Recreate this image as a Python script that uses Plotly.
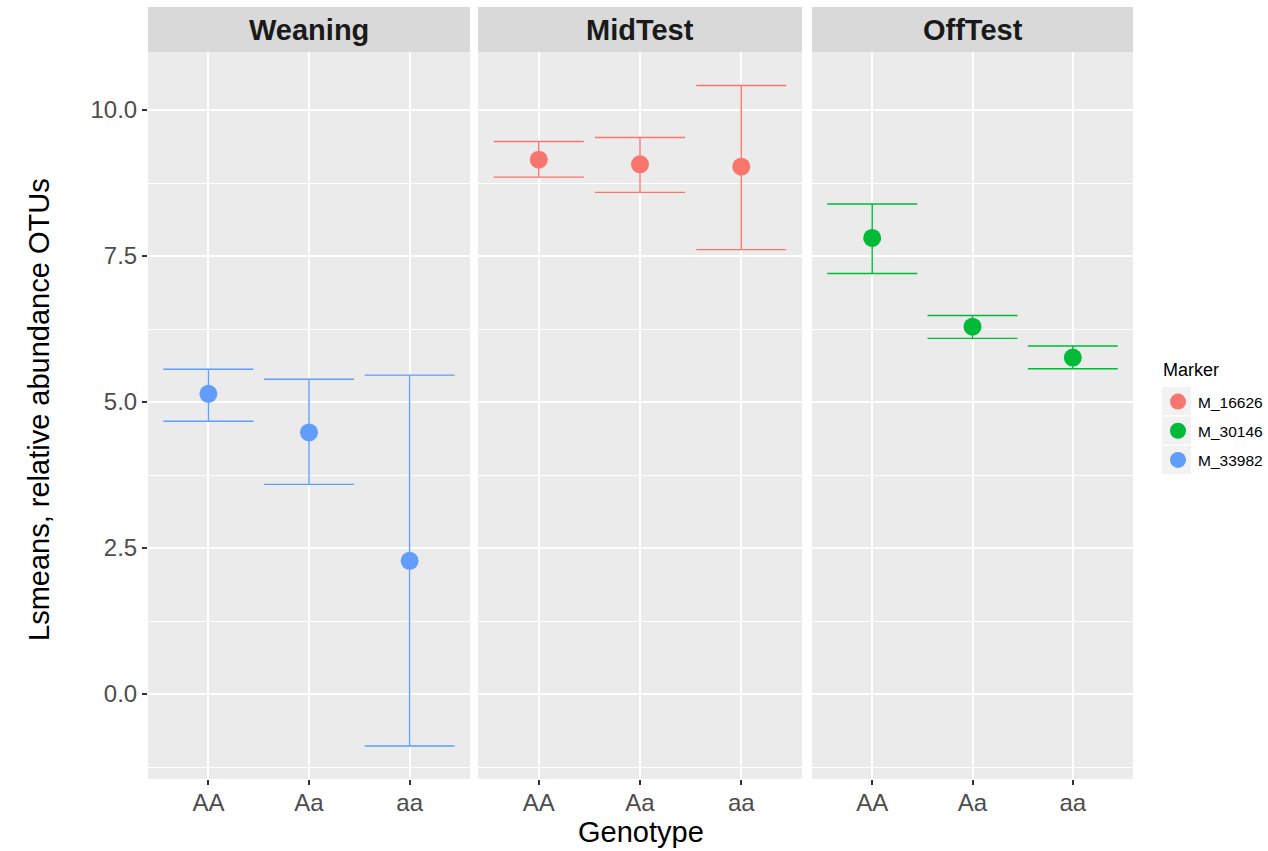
import plotly.graph_objects as go

# Genotype categories on the x axis of every facet
genotypes = ["AA", "Aa", "aa"]

# Facets (sampling stage) and the OTU marker shown in each
stages = ["Weaning", "MidTest", "OffTest"]
stage_markers = ["M_33982", "M_16626", "M_30146"]

# Least-squares means with lower / upper confidence limits
weaning_mean = [5.14, 4.48, 2.28]
weaning_lower = [4.67, 3.59, -0.89]
weaning_upper = [5.56, 5.39, 5.46]

midtest_mean = [9.15, 9.07, 9.03]
midtest_lower = [8.85, 8.59, 7.61]
midtest_upper = [9.46, 9.53, 10.42]

offtest_mean = [7.81, 6.29, 5.76]
offtest_lower = [7.20, 6.09, 5.57]
offtest_upper = [8.39, 6.48, 5.96]

# ggplot2 default hue palette for the three markers
marker_colors = {"M_16626": "#F8766D", "M_30146": "#00BA38", "M_33982": "#619CFF"}
legend_order = ["M_16626", "M_30146", "M_33982"]

y_ticks = [0.0, 2.5, 5.0, 7.5, 10.0]

W, H = 1268, 851
ML, MR, MT, MB = 148, 135, 52, 72
plot_w = W - ML - MR
plot_h = H - MT - MB

# facet panel edges in pixels relative to the plotting area
panel_px = [(0, 322), (330, 654), (664, 985)]
domains = [(a / plot_w, b / plot_w) for a, b in panel_px]

FONT = "Liberation Sans, Arial, sans-serif"
PANEL_BG = "#EBEBEB"
STRIP_BG = "#D9D9D9"


def px_x(px):
    return (px - ML) / plot_w


def px_y(py):
    return 1 - (py - MT) / plot_h


series = [
    (weaning_mean, weaning_lower, weaning_upper),
    (midtest_mean, midtest_lower, midtest_upper),
    (offtest_mean, offtest_lower, offtest_upper),
]

fig = go.Figure()

for i, (stage, mk, (mean, lo, hi)) in enumerate(zip(stages, stage_markers, series)):
    xa = "x" if i == 0 else f"x{i + 1}"
    ya = "y" if i == 0 else f"y{i + 1}"
    color = marker_colors[mk]
    fig.add_trace(go.Scatter(
        x=genotypes, y=mean, xaxis=xa, yaxis=ya,
        mode="markers", name=mk, legendgroup=mk,
        legendrank=legend_order.index(mk) + 1,
        marker=dict(size=18, color=color),
        error_y=dict(
            type="data", symmetric=False,
            array=[h - m for h, m in zip(hi, mean)],
            arrayminus=[m - l for m, l in zip(mean, lo)],
            color=color, thickness=1.4, width=45,
        ),
        showlegend=True,
    ))

layout = dict(
    width=W, height=H,
    margin=dict(l=ML, r=MR, t=MT, b=MB, pad=0, autoexpand=False),
    paper_bgcolor="white", plot_bgcolor=PANEL_BG,
    font=dict(family=FONT, color="#000000"),
    showlegend=True,
    legend=dict(
        font=dict(size=15.5, color="#000000", family=FONT),
        x=px_x(1158), xanchor="left",
        y=px_y(385), yanchor="top",
        bgcolor="rgba(0,0,0,0)", tracegroupgap=6, itemsizing="trace",
    ),
)

for i, (d0, d1) in enumerate(domains):
    sfx = "" if i == 0 else str(i + 1)
    layout[f"xaxis{sfx}"] = dict(
        domain=[d0, d1], anchor=f"y{sfx}",
        type="category", categoryorder="array", categoryarray=genotypes,
        range=[-0.6, 2.6],
        showgrid=True, gridcolor="white", gridwidth=2,
        zeroline=False, showline=False,
        ticks="outside", ticklen=5, tickwidth=1.5, tickcolor="#333333",
        ticklabelstandoff=-3,
        tickfont=dict(size=24, color="#4D4D4D", family=FONT),
        fixedrange=True,
    )
    layout[f"yaxis{sfx}"] = dict(
        domain=[0, 1], anchor=f"x{sfx}",
        range=[-1.455, 10.993],
        tickmode="array", tickvals=y_ticks,
        ticktext=[f"{v:.1f}" for v in y_ticks],
        showgrid=True, gridcolor="white", gridwidth=2,
        minor=dict(tickmode="linear", tick0=1.25, dtick=2.5,
                   showgrid=True, gridcolor="white", gridwidth=1, ticks=""),
        zeroline=False, showline=False,
        ticks="outside" if i == 0 else "", ticklen=5, tickwidth=1.5, tickcolor="#333333",
        showticklabels=(i == 0),
        tickfont=dict(size=24, color="#4D4D4D", family=FONT),
        fixedrange=True,
    )
    if i > 0:
        layout[f"yaxis{sfx}"]["matches"] = "y"

fig.update_layout(**layout)

# panel backgrounds for the second and third facets and the facet strips
shapes = []
annotations = []
strip_top = px_y(7)
for i, ((d0, d1), stage) in enumerate(zip(domains, stages)):
    if i > 0:
        shapes.append(dict(type="rect", xref="paper", yref="paper",
                           x0=d0, x1=d1, y0=0, y1=1, fillcolor=PANEL_BG,
                           line=dict(width=0), layer="below"))
    shapes.append(dict(type="rect", xref="paper", yref="paper",
                       x0=d0, x1=d1, y0=1, y1=strip_top, fillcolor=STRIP_BG,
                       line=dict(width=0), layer="below"))
    annotations.append(dict(text=f"<b>{stage}</b>", xref="paper", yref="paper",
                            x=(d0 + d1) / 2, y=(1 + strip_top) / 2,
                            xanchor="center", yanchor="middle", showarrow=False,
                            font=dict(size=29, color="#1A1A1A", family=FONT)))

# legend title and key backgrounds
annotations.append(dict(text="Marker", xref="paper", yref="paper",
                        x=px_x(1161), y=px_y(370), xanchor="left", yanchor="middle",
                        showarrow=False,
                        font=dict(size=18, color="#000000", family=FONT)))
for k in range(len(legend_order)):
    cy = 401 + 29.5 * k
    shapes.append(dict(type="rect", xref="paper", yref="paper",
                       x0=px_x(1162), x1=px_x(1191),
                       y0=px_y(cy + 14), y1=px_y(cy - 14),
                       fillcolor="#F2F2F2", line=dict(width=0), layer="below"))

# axis titles
annotations.append(dict(text="Genotype", xref="paper", yref="paper",
                        x=0.5, y=px_y(832),
                        xanchor="center", yanchor="middle", showarrow=False,
                        font=dict(size=29, color="#000000", family=FONT)))
annotations.append(dict(text="Lsmeans, relative abundance OTUs", xref="paper", yref="paper",
                        x=px_x(39), y=px_y(410), textangle=-90,
                        xanchor="center", yanchor="middle", showarrow=False,
                        font=dict(size=29, color="#000000", family=FONT)))

fig.update_layout(shapes=shapes, annotations=annotations)

fig.write_html("out.html")
